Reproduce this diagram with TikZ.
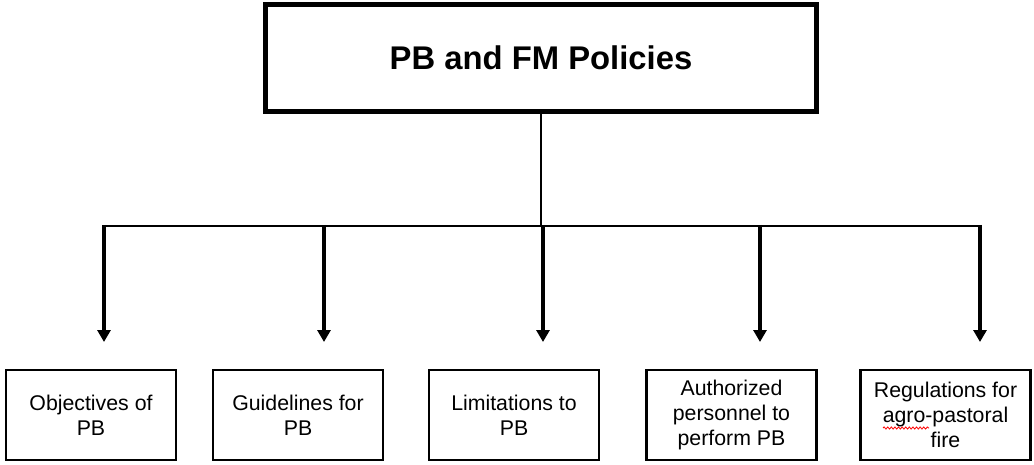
\documentclass[tikz,border=0pt]{standalone}
\usepackage{fontspec}
\setmainfont{Liberation Sans}
\usetikzlibrary{arrows.meta,decorations.pathmorphing}

\tikzset{
  titlebox/.style={draw, line width=5.5pt, minimum width=551pt, minimum height=107pt,
    inner sep=0pt, font=\bfseries\fontsize{32.8}{37}\selectfont},
  itembox/.style={draw, line width=2.8pt, minimum width=170pt, minimum height=90pt,
    inner sep=0pt, align=center, font=\fontsize{21.3}{24.8}\selectfont},
  busline/.style={line width=2.4pt},
  stemline/.style={line width=2pt},
  droparrow/.style={line width=3.4pt, -{Triangle[width=13pt,length=12pt]}},
  spellmark/.style={red, line width=0.8pt,
    decorate, decoration={snake, amplitude=1.1pt, segment length=3.6pt}}
}

\begin{document}
\begin{tikzpicture}[x=1pt,y=-1pt]
  \useasboundingbox (0,0) rectangle (1034,464);

  % top heading
  \node[titlebox] (top) at (541,58) {PB and FM Policies};

  % sub-topic boxes
  \node[itembox] (b1) at (91,415)    {Objectives of\\PB};
  \node[itembox] (b2) at (298,415)   {Guidelines for\\PB};
  \node[itembox] (b3) at (514,415)   {Limitations to\\PB};
  \node[itembox] (b4) at (731.5,415) {Authorized\\personnel to\\perform PB};
  \node[itembox] (b5) at (945.5,415) {Regulations for\\agro-pastoral\\fire};

  % branching points on the horizontal bus and arrow ends
  \coordinate (j1) at (104,226);
  \coordinate (j2) at (324,226);
  \coordinate (j3) at (543,226);
  \coordinate (j4) at (760,226);
  \coordinate (j5) at (980,226);
  \coordinate (s)  at (top.south |- j1);
  \foreach \i in {1,...,5} {
    \coordinate (e\i) at ([yshift=-116pt]j\i);
  }

  % stem and bus
  \draw[stemline] (top.south) -- (s);
  \draw[busline] (j1) -- (j5);

  % drop arrows
  \foreach \i in {1,...,5} {
    \draw[droparrow] ([yshift=1.2pt]j\i) -- (e\i);
  }

  % spell-check underline beneath "agro"
  \draw[spellmark] (883,428) -- (929,428);
\end{tikzpicture}
\end{document}
